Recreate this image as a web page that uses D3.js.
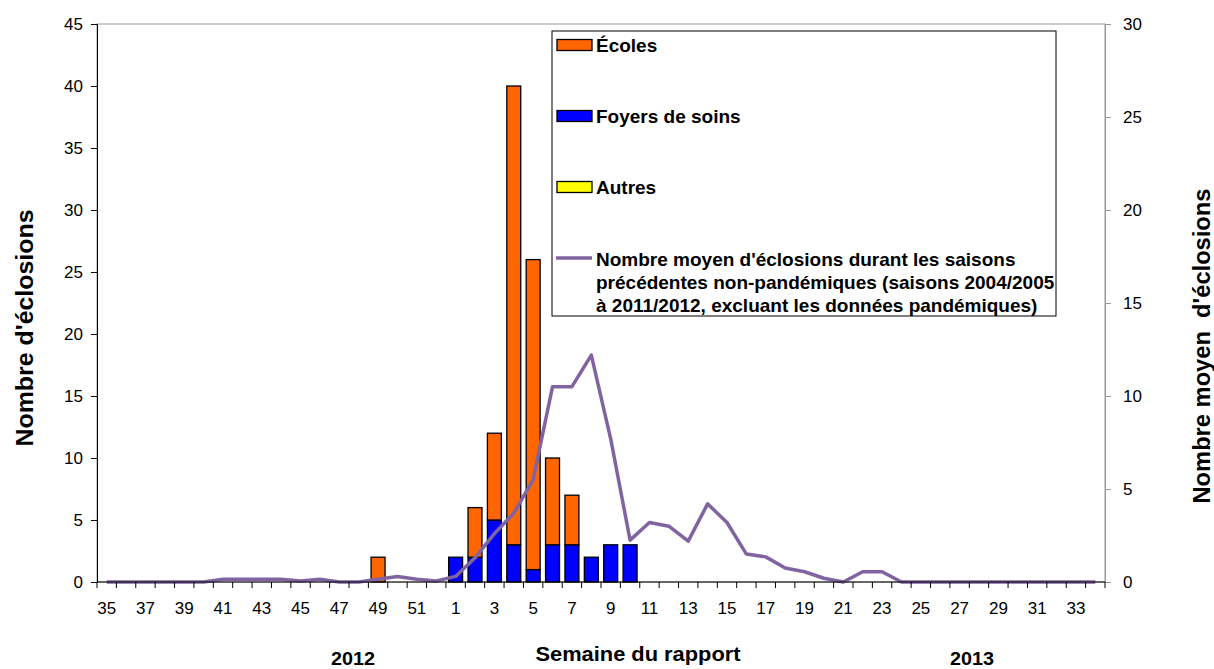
<!DOCTYPE html>
<html>
<head>
<meta charset="utf-8">
<script src="https://cdn.jsdelivr.net/npm/d3@7"></script>
<style>
  body { margin: 0; background: #fff; }
  svg { font-family: "Liberation Sans", Arial, sans-serif; }
  .tick text { font-size: 17px; fill: #000; }
</style>
</head>
<body>
<div id="chart"></div>
<script>
// Weeks of the report: 35..52 of 2012, then 1..34 of 2013
const weeks = d3.range(35, 53).concat(d3.range(1, 35)).map(String)

// Outbreaks per week (left axis)
const ecoles = [0,0,0,0,0,0,0,0,0,0,0,0,0,0,2,0,0,0,
                0,4,7,37,25,7,4,0,0,0,0,0,0,0,0,0,0,0,0,0,0,0,0,0,0,0,0,0,0,0,0,0,0,0]
const foyers = [0,0,0,0,0,0,0,0,0,0,0,0,0,0,0,0,0,0,
                2,2,5,3,1,3,3,2,3,3,0,0,0,0,0,0,0,0,0,0,0,0,0,0,0,0,0,0,0,0,0,0,0,0]
const autres = [0,0,0,0,0,0,0,0,0,0,0,0,0,0,0,0,0,0,
                0,0,0,0,0,0,0,0,0,0,0,0,0,0,0,0,0,0,0,0,0,0,0,0,0,0,0,0,0,0,0,0,0,0]

// Mean outbreaks in previous non-pandemic seasons (right axis)
const moyenne = [0,0,0,0,0,0,0.15,0.15,0.15,0.15,0.05,0.15,0,0,0.15,0.3,0.15,0.05,
                 0.3,1.3,2.6,3.7,5.5,10.5,10.5,12.2,7.7,2.25,3.2,3.0,2.2,4.2,3.2,1.5,1.35,0.75,0.55,0.2,0,0.55,0.55,
                 0,0,0,0,0,0,0,0,0,0,0]

const leftTicks = [0,5,10,15,20,25,30,35,40,45]
const rightTicks = [0,5,10,15,20,25,30]

const width = 1214, height = 669
const plot = {left: 97, right: 1105, top: 24, bottom: 582}

const svg = d3.select("#chart").append("svg")
    .attr("width", width).attr("height", height)

// Scales
const x = d3.scaleBand().domain(weeks)
    .range([plot.left, plot.right])
    .paddingInner(0.28).paddingOuter(0.14)
const y = d3.scaleLinear().domain([0, 45]).range([plot.bottom, plot.top])
const y2 = d3.scaleLinear().domain([0, 30]).range([plot.bottom, plot.top])

// Plot border (light)
svg.append("rect")
    .attr("x", plot.left).attr("y", plot.top)
    .attr("width", plot.right - plot.left).attr("height", plot.bottom - plot.top)
    .attr("fill", "none").attr("stroke", "#999")

// Stacked bars
const stackData = weeks.map((w, i) => ({week: w, foyers: foyers[i], ecoles: ecoles[i], autres: autres[i]}))
const keys = ["foyers", "ecoles", "autres"]
const colors = {foyers: "#0000FF", ecoles: "#FF6600", autres: "#FFFF00"}
const series = d3.stack().keys(keys)(stackData)

svg.append("g").selectAll("g")
    .data(series)
    .join("g")
    .attr("fill", d => colors[d.key])
    .selectAll("rect")
    .data(d => d.filter(s => s[1] - s[0] > 0))
    .join("rect")
    .attr("x", d => x(d.data.week))
    .attr("width", x.bandwidth())
    .attr("y", d => y(d[1]))
    .attr("height", d => y(d[0]) - y(d[1]))
    .attr("stroke", "#000")
    .attr("stroke-width", 1.3)

// Mean line
const line = d3.line()
    .x((d, i) => x(weeks[i]) + x.bandwidth() / 2)
    .y(d => y2(d))
svg.append("path")
    .datum(moyenne)
    .attr("d", line)
    .attr("fill", "none")
    .attr("stroke", "#8064A2")
    .attr("stroke-width", 3.5)
    .attr("stroke-linejoin", "round")

// Left axis
const yAxis = d3.axisLeft(y).tickValues(leftTicks).tickSize(6).tickPadding(8)
const gy = svg.append("g").attr("transform", `translate(${plot.left},0)`).call(yAxis)
gy.select(".domain").attr("stroke", "#000")

// Right axis
const y2Axis = d3.axisRight(y2).tickValues(rightTicks).tickSize(6).tickPadding(12)
const gy2 = svg.append("g").attr("transform", `translate(${plot.right},0)`).call(y2Axis)
gy2.selectAll(".domain, line").attr("stroke", "#999")

// X axis: tick marks on category boundaries, labels every other week
const step = x.step()
const x0 = x(weeks[0]) - step * x.paddingInner() / 2
const gx = svg.append("g")
gx.append("line")
    .attr("x1", plot.left).attr("x2", plot.right)
    .attr("y1", plot.bottom).attr("y2", plot.bottom)
    .attr("stroke", "#000")
gx.selectAll("line.tk")
    .data(d3.range(weeks.length + 1))
    .join("line")
    .attr("class", "tk")
    .attr("x1", i => x0 + i * step).attr("x2", i => x0 + i * step)
    .attr("y1", plot.bottom).attr("y2", plot.bottom + 6)
    .attr("stroke", "#000")
gx.selectAll("text")
    .data(weeks.filter((w, i) => i % 2 === 0))
    .join("text")
    .attr("x", w => x(w) + x.bandwidth() / 2)
    .attr("y", plot.bottom + 32)
    .attr("text-anchor", "middle")
    .attr("font-size", 17)
    .text(w => w)

// Axis titles
svg.append("text")
    .attr("transform", "translate(33,328) rotate(-90)")
    .attr("text-anchor", "middle")
    .attr("font-size", 24).attr("font-weight", "bold")
    .attr("textLength", 237).attr("lengthAdjust", "spacingAndGlyphs")
    .text("Nombre d'éclosions")
svg.append("text")
    .attr("transform", "translate(1210,346) rotate(-90)")
    .attr("text-anchor", "middle")
    .attr("font-size", 24).attr("font-weight", "bold")
    .attr("xml:space", "preserve")
    .attr("textLength", 315).attr("lengthAdjust", "spacingAndGlyphs")
    .text("Nombre moyen  d'éclosions")
svg.append("text")
    .attr("x", 638).attr("y", 661)
    .attr("text-anchor", "middle")
    .attr("font-size", 20).attr("font-weight", "bold")
    .attr("textLength", 205).attr("lengthAdjust", "spacingAndGlyphs")
    .text("Semaine du rapport")
svg.append("text")
    .attr("x", 353).attr("y", 665)
    .attr("text-anchor", "middle")
    .attr("font-size", 18).attr("font-weight", "bold")
    .attr("textLength", 44).attr("lengthAdjust", "spacingAndGlyphs")
    .text("2012")
svg.append("text")
    .attr("x", 972).attr("y", 665)
    .attr("text-anchor", "middle")
    .attr("font-size", 18).attr("font-weight", "bold")
    .attr("textLength", 44).attr("lengthAdjust", "spacingAndGlyphs")
    .text("2013")

// Legend
const legend = svg.append("g").attr("id", "legend")
legend.append("rect")
    .attr("x", 552).attr("y", 31).attr("width", 504).attr("height", 285)
    .attr("fill", "#fff").attr("stroke", "#000")
const items = [
  {label: "Écoles", color: colors.ecoles, y: 45},
  {label: "Foyers de soins", color: colors.foyers, y: 116},
  {label: "Autres", color: colors.autres, y: 187}
]
items.forEach(it => {
  legend.append("rect")
      .attr("x", 557).attr("y", it.y - 5.5).attr("width", 35).attr("height", 11)
      .attr("fill", it.color).attr("stroke", "#000").attr("stroke-width", 1.3)
  legend.append("text")
      .attr("x", 596).attr("y", it.y + 7)
      .attr("font-size", 19).attr("font-weight", "bold")
      .text(it.label)
})
legend.append("line")
    .attr("x1", 556).attr("x2", 592).attr("y1", 258).attr("y2", 258)
    .attr("stroke", "#8064A2").attr("stroke-width", 3.5)
const lineLabel = [
  "Nombre moyen d'éclosions durant les saisons",
  "précédentes non-pandémiques (saisons 2004/2005",
  "à 2011/2012, excluant les données pandémiques)"
]
legend.selectAll("text.ml")
    .data(lineLabel)
    .join("text")
    .attr("class", "ml")
    .attr("x", 596).attr("y", (d, i) => 266 + i * 23)
    .attr("font-size", 19).attr("font-weight", "bold")
    .text(d => d)
</script>
</body>
</html>
